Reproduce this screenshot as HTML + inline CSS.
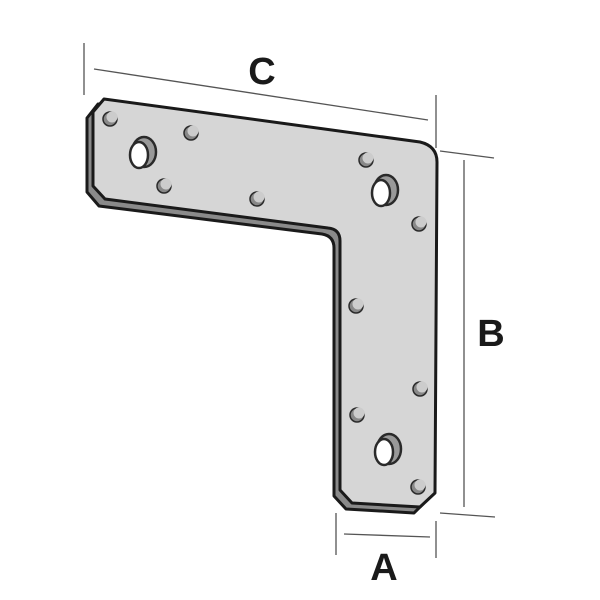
<!DOCTYPE html>
<html><head><style>body{margin:0;background:#fff}svg{display:block}</style></head><body>
<svg width="600" height="600" viewBox="0 0 600 600" xmlns="http://www.w3.org/2000/svg">
<g stroke="#555" stroke-width="1.3" fill="none">
<line x1="84" y1="43" x2="84" y2="95"/>
<line x1="94" y1="69" x2="428" y2="120"/>
<line x1="436" y1="95" x2="436" y2="148"/>
<line x1="440" y1="151" x2="494" y2="158"/>
<line x1="464" y1="160" x2="464" y2="507"/>
<line x1="440" y1="513" x2="495" y2="517"/>
<line x1="336" y1="513" x2="336" y2="555"/>
<line x1="344" y1="534" x2="430" y2="537"/>
<line x1="436" y1="521" x2="436" y2="558"/>
</g>
<g font-family="Liberation Sans, sans-serif" font-weight="bold" font-size="38" fill="#1a1a1a" text-anchor="middle">
<text x="262" y="84">C</text>
<text x="491" y="346">B</text>
<text x="384" y="580">A</text>
</g>
<path d="M98,104 L414,147 Q431,150 431,166 L429,498 L414,513 L346,509 L334,496 L334,248 Q334,236 322,234 L99,206 L87,192 L87,118 Z" fill="#8a8a8a" stroke="#1a1a1a" stroke-width="3" stroke-linejoin="round"/>
<path d="M104,99 L420,142 Q437,146 437,162 L435,493 L420,507 L352,503 L340,490 L340,241 Q340,229 328,228 L105,199 L93,186 L93,112 Z" fill="#d6d6d6" stroke="#1a1a1a" stroke-width="3" stroke-linejoin="round"/>
<g stroke="#2a2a2a" stroke-width="1.5">
<g fill="#888">
<circle cx="110" cy="119" r="7"/><circle cx="191" cy="133" r="7"/><circle cx="164" cy="186" r="7"/>
<circle cx="257" cy="199" r="7"/><circle cx="366" cy="160" r="7"/><circle cx="419" cy="224" r="7"/>
<circle cx="356" cy="306" r="7"/><circle cx="420" cy="389" r="7"/><circle cx="357" cy="415" r="7"/>
<circle cx="418" cy="487" r="7"/>
</g>
<g fill="#ccc" stroke="none">
<circle cx="112" cy="117" r="5.5"/><circle cx="193" cy="131" r="5.5"/><circle cx="166" cy="184" r="5.5"/>
<circle cx="259" cy="197" r="5.5"/><circle cx="368" cy="158" r="5.5"/><circle cx="421" cy="222" r="5.5"/>
<circle cx="358" cy="304" r="5.5"/><circle cx="422" cy="387" r="5.5"/><circle cx="359" cy="413" r="5.5"/>
<circle cx="420" cy="485" r="5.5"/>
</g>
<g stroke-width="2.5">
<ellipse cx="144" cy="152" rx="12" ry="15" fill="#999"/>
<ellipse cx="139" cy="155" rx="9" ry="13" fill="#fff"/>
<ellipse cx="386" cy="190" rx="12" ry="15" fill="#999"/>
<ellipse cx="381" cy="193" rx="9" ry="13" fill="#fff"/>
<ellipse cx="389" cy="449" rx="12" ry="15" fill="#999"/>
<ellipse cx="384" cy="452" rx="9" ry="13" fill="#fff"/>
</g>
</g>
</svg>
</body></html>
